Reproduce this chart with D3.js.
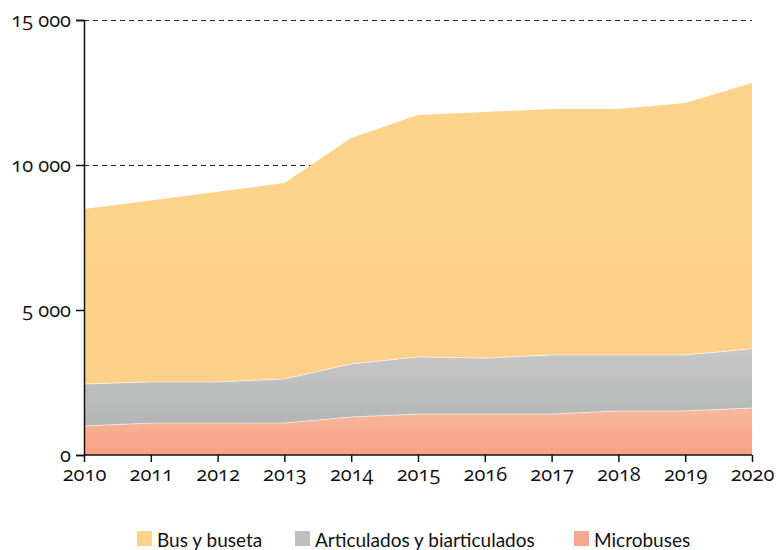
<!DOCTYPE html>
<html><head><meta charset="utf-8">
<script src="https://cdn.jsdelivr.net/npm/d3@7"></script>
<style>
body{margin:0;background:#fff;}
.leg{font-family:Lato,"Open Sans",sans-serif;}
svg .tk text{font-family:"Open Sans",sans-serif !important;font-size:20px !important;font-variant-numeric:oldstyle-nums;}
</style></head>
<body>
<svg id="c" width="776" height="550"></svg>
<script>
const years = [2010,2011,2012,2013,2014,2015,2016,2017,2018,2019,2020];
const microbuses = [1000,1100,1100,1100,1310,1410,1410,1410,1520,1520,1620];
const articulados = [1450,1420,1420,1520,1830,1970,1930,2040,1930,1930,2040];
const busBuseta = [6030,6260,6560,6760,7790,8340,8490,8480,8480,8690,9170];
const yTicks = [0,5000,10000,15000];
const seriesNames = ["Microbuses","Articulados y biarticulados","Bus y buseta"];
const legendOrder = ["Bus y buseta","Articulados y biarticulados","Microbuses"];

const svg = d3.select("#c");
const x = d3.scaleLinear().domain([2010,2020]).range([84,752]);
const y = d3.scaleLinear().domain([0,15000]).range([455,20]);

const rows = years.map((yr,i)=>({year:yr,"Microbuses":microbuses[i],"Articulados y biarticulados":articulados[i],"Bus y buseta":busBuseta[i]}));
const stack = d3.stack().keys(seriesNames)(rows);

const defs = svg.append("defs");
const grads = {
  "Bus y buseta":["#fdd38b","#fdd089"],
  "Articulados y biarticulados":["#c6c7c6","#b3b5b4"],
  "Microbuses":["#f8b89c","#f6a082"]
};
const gid = {};
seriesNames.forEach((k,i)=>{
  const id="g"+i; gid[k]=id;
  const g=defs.append("linearGradient").attr("id",id).attr("x1",0).attr("x2",0).attr("y1",0).attr("y2",1);
  g.append("stop").attr("offset","0%").attr("stop-color",grads[k][0]);
  g.append("stop").attr("offset","100%").attr("stop-color",grads[k][1]);
});
const legendColor = {"Bus y buseta":"#fdd38c","Articulados y biarticulados":"#bebfbe","Microbuses":"#f6a98d"};

// gridlines
svg.append("g").selectAll("line").data(yTicks.filter(d=>d>0)).join("line")
  .attr("x1",84).attr("x2",752).attr("y1",d=>y(d)+0.5).attr("y2",d=>y(d)+0.5)
  .attr("stroke","#222").attr("stroke-width",1).attr("stroke-dasharray","5,4");

const area = d3.area().x(d=>x(d.data.year)).y0(d=>y(d[0])).y1(d=>y(d[1]));
svg.append("g").selectAll("path").data(stack).join("path")
  .attr("d",area)
  .attr("fill",d=>`url(#${gid[d.key]})`);
const line = d3.line().x(d=>x(d.data.year)).y(d=>y(d[1]));
svg.append("g").selectAll("path").data(stack.slice(0,2)).join("path")
  .attr("d",line).attr("fill","none").attr("stroke","rgba(255,255,255,0.55)").attr("stroke-width",1);

// axes
const yAxis = d3.axisLeft(y).tickValues(yTicks).tickSize(8).tickPadding(5)
  .tickFormat(d=>d3.format(",")(d).replace(/,/g," "));
const gy = svg.append("g").attr("class","tk").attr("transform","translate(84,0)").call(yAxis);
gy.select(".domain").attr("stroke","#111").attr("stroke-width",1.5);
gy.selectAll(".tick line").attr("stroke","#111").attr("stroke-width",1.5);
gy.selectAll("text").attr("fill","#111");

const xAxis = d3.axisBottom(x).tickValues(years).tickSize(7).tickPadding(5).tickFormat(d3.format("d"));
const gx = svg.append("g").attr("class","tk").attr("transform","translate(0,455)").call(xAxis);
gx.select(".domain").attr("stroke","#111").attr("stroke-width",1.5).attr("d","M84,0H752");
gx.selectAll(".tick line").attr("stroke","#111").attr("stroke-width",1.5);
gx.selectAll("text").attr("fill","#111");

// legend
const lg = svg.append("g").attr("class","leg");
const lx = [137,295,574];
legendOrder.forEach((k,i)=>{
  lg.append("rect").attr("x",lx[i]).attr("y",531).attr("width",15).attr("height",15).attr("fill",legendColor[k]);
  lg.append("text").attr("x",lx[i]+20).attr("y",547).attr("font-size",19).attr("fill","#111").text(k);
});
</script>
</body></html>
